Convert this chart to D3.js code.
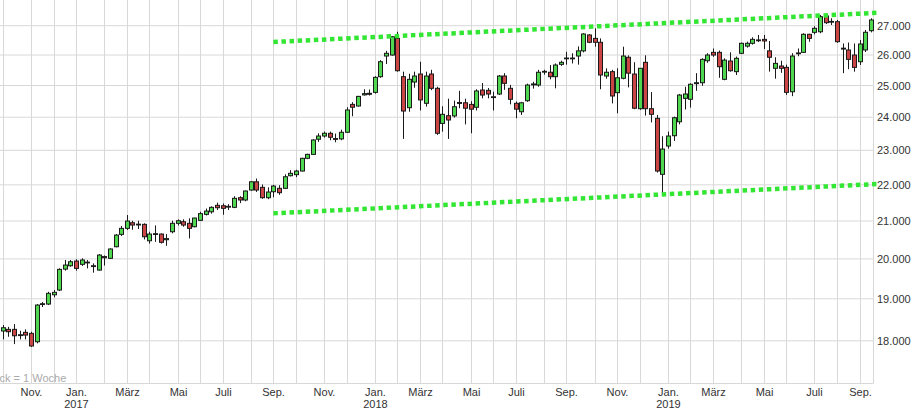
<!DOCTYPE html>
<html><head><meta charset="utf-8">
<script src="https://cdn.jsdelivr.net/npm/d3@7"></script>
<style>
html,body{margin:0;padding:0;background:#fff;}
svg{display:block;font-family:"Liberation Sans",Arial,sans-serif;}
</style></head><body>
<svg id="chart" width="917" height="414"></svg>
<script>
// Weekly candles, first week starts Monday 2016-09-26, last week 2019-09-09
const firstWeek = "2016-09-26";
const lastWeek = "2019-09-09";
const openV = [18228,18267,18267,18140,18197,18173,17978,18860,18871,19098,19215,19740,19825,19946,19861,19905,19825,19715,20060,20015,
20316,20642,20802,20953,20900,20910,20473,20640,20650,20500,20712,20937,20980,20937,20846,21018,21180,21250,21428,21417,
21390,21373,21639,21575,21854,22087,21930,21639,21806,21902,21902,22260,22290,22395,22764,22880,23330,23427,23508,23350,
23340,23540,24400,24350,24700,24750,24780,25285,25967,26000,26563,25285,24296,25112,25372,24434,25372,24910,23810,24047,
24040,24430,24450,24400,24310,24855,24845,24640,24728,25307,24910,24434,24170,24515,25020,25015,25440,25430,25285,25690,
25880,25900,25967,26140,26680,26563,26430,25307,25450,24770,25233,25925,25372,24265,25757,24265,23966,22300,23127,23436,
23860,24590,24560,25060,25090,25810,26090,26090,25200,25800,25450,26057,26300,26395,26500,26530,26140,25560,25635,25590,
24800,26050,26090,26703,26770,26790,27340,27130,27140,26200,26170,26000,25777,26170,26827];
const highV = [18369,18326,18392,18235,18267,18211,18870,18920,19172,19215,19760,19972,19972,19990,20015,19972,19886,20125,20090,20275,
20650,20865,21162,21007,21007,20937,20712,20880,20668,20650,21007,21045,21045,21072,21090,21250,21340,21400,21500,21480,
21460,21680,21680,21840,22100,22180,22010,21930,22000,21990,22300,22420,22430,22780,22900,23330,23508,23560,23560,23500,
23620,24310,24470,24670,24880,24870,25300,25830,26140,26640,26790,25450,25380,25450,25777,25450,25510,24960,24340,24580,
24520,24830,24580,24500,24880,25080,24920,24800,25340,25400,25020,24490,24480,25060,25120,25510,25510,25670,25720,25810,
26110,26060,26290,26740,26710,26910,26563,25560,25510,25560,26280,25990,25760,25560,25990,24790,24070,23420,23560,24020,
24730,24960,25070,25400,25890,26060,26220,26150,25890,26090,25950,26420,26450,26600,26680,26680,26475,25925,25810,25680,
26060,26220,26740,26720,26980,27375,27410,27260,27200,26390,26420,26390,26507,26850,27260];
const lowV = [18033,18094,17924,18033,18033,17860,17940,18800,18847,19035,19190,19700,19800,19700,19820,19758,19649,19700,19830,19998,
20300,20600,20760,20766,20785,20508,20400,20445,20400,20340,20670,20880,20846,20535,20830,21000,21150,21200,21300,21170,
21300,21350,21490,21540,21830,21800,21610,21600,21650,21720,21880,22240,22220,22380,22740,22860,23250,23380,23300,23240,
23300,23520,24030,24330,24680,24680,24740,25250,25700,25980,25450,23340,24170,24930,24210,24330,24850,23460,23560,23340,
23990,24280,23780,23510,24210,24590,24590,24210,24700,24860,24400,23970,24070,24480,24900,24960,25350,25200,24910,25640,
25680,25720,25680,26090,26400,26280,24880,25220,24430,24122,25200,24940,24250,24230,24050,23840,22350,21760,23050,23280,
23780,24240,24300,24830,24990,25740,25940,25250,25170,25450,25340,26030,26250,26350,26440,26200,25450,25220,25410,24700,
24660,25960,26070,26450,26700,26740,27060,27025,26410,25400,25530,25450,25670,26100,26770];
const closeV = [18305,18211,18117,18130,18133,17880,18847,18880,19133,19158,19733,19843,19928,19758,19972,19918,19812,20100,20030,20257,
20623,20802,20999,20891,20915,20578,20650,20660,20432,20530,20937,21007,20891,20802,21080,21200,21270,21372,21362,21345,
21400,21622,21575,21826,22087,21854,21639,21798,21966,21779,22231,22329,22395,22764,22880,23308,23427,23510,23390,23340,
23540,24225,24310,24652,24740,24719,25265,25777,26057,26620,25480,24192,25200,25307,24540,25307,24910,23510,24090,23915,
24327,24460,24280,24250,24825,24695,24728,24620,25307,25070,24560,24250,24450,25015,25050,25430,25460,25285,25668,25757,
25900,25880,26140,26713,26430,26430,25340,25430,24665,25250,25967,25400,24280,25560,24265,24090,22395,23037,23427,23985,
24695,24728,25040,25090,25855,26000,26000,25612,25830,25480,25890,26395,26395,26530,26510,26475,25925,25723,25560,24780,
25967,26070,26703,26563,26910,27315,27105,27150,26450,26230,25855,25590,26372,26772,27200];

const yTicks = [18000,19000,20000,21000,22000,23000,24000,25000,26000,27000];
const monthNames = ["Jan.","Feb.","März","Apr.","Mai","Juni","Juli","Aug.","Sep.","Okt.","Nov.","Dez."];
const labeledMonths = [0,2,4,6,8,10];
const upperTrend = [{date:"2017-08-28", value:26440},{date:"2019-09-16", value:27450}];
const lowerTrend = [{date:"2017-08-28", value:21208},{date:"2019-09-16", value:22023}];
const noteText = "ck = 1 Woche";

const W = 917, H = 414;
const plotRight = 873.6, plotBottom = 383;
const parse = d3.timeParse("%Y-%m-%d");
const weeks = d3.timeMonday.range(parse(firstWeek), d3.timeDay.offset(parse(lastWeek), 1));
const data = weeks.map((d,i)=>({date:d, o:openV[i], h:highV[i], l:lowV[i], c:closeV[i]}));

const x = d3.scaleBand().domain(weeks.map(d=>+d)).range([0, plotRight]).paddingInner(0.3).paddingOuter(0.15);
const step = x.step();
const cx0 = x(+weeks[0]) + x.bandwidth()/2;
const xOf = d => cx0 + d3.timeMonday.count(weeks[0], d) * step;
const y = d3.scaleLog().domain([18000, 27000]).range([340.8, 25.7]);
const fmt = d3.formatLocale({decimal:",", thousands:".", grouping:[3], currency:["","€"]}).format(",.0f");

const svg = d3.select("#chart");
svg.append("rect").attr("width",W).attr("height",H).attr("fill","#fff");

const grid = svg.append("g").attr("stroke","#d8d8d8").attr("stroke-width",1);
// horizontal gridlines
grid.selectAll("line.h").data(yTicks).join("line").attr("class","h")
  .attr("x1",0).attr("x2",plotRight).attr("y1",d=>y(d)).attr("y2",d=>y(d));
// month gridlines at the week containing the 1st of each month
const months = d3.timeMonth.range(new Date(2016,9,1), new Date(2019,9,1));
const monthPos = months.map(m=>({m, x: Math.round(xOf(d3.timeMonday.floor(m)))+0.5}));
grid.selectAll("line.v").data(monthPos).join("line").attr("class","v")
  .attr("x1",d=>d.x).attr("x2",d=>d.x).attr("y1",0).attr("y2",plotBottom);
// frame lines
grid.append("line").attr("x1",0).attr("x2",plotRight).attr("y1",plotBottom+0.5).attr("y2",plotBottom+0.5);
grid.append("line").attr("x1",873.5).attr("x2",873.5).attr("y1",0).attr("y2",plotBottom);

// candles
const cg = svg.append("g");
const cand = cg.selectAll("g").data(data).join("g");
cand.append("line")
  .attr("x1",d=>Math.round(x(+d.date)+x.bandwidth()/2)+0.5)
  .attr("x2",d=>Math.round(x(+d.date)+x.bandwidth()/2)+0.5)
  .attr("y1",d=>y(d.h)).attr("y2",d=>y(d.l))
  .attr("stroke","#1a1a1a").attr("stroke-width",1);
cand.append("rect")
  .attr("x",d=>Math.round(x(+d.date)+x.bandwidth()/2)-1.5)
  .attr("width",4)
  .attr("y",d=>y(Math.max(d.o,d.c)))
  .attr("height",d=>Math.max(Math.abs(y(d.o)-y(d.c)),0.8))
  .attr("fill",d=>d.c>=d.o ? "#4fd84f" : "#cc4545")
  .attr("stroke","#1a1a1a").attr("stroke-width",1);

// y axis labels (right)
const yAxis = d3.axisRight(y).tickValues(yTicks).tickFormat(fmt).tickSize(0).tickPadding(4);
const ya = svg.append("g").attr("transform",`translate(873,0)`).call(yAxis);
ya.select(".domain").remove();
ya.selectAll("text").attr("fill","#333").attr("font-size",11).attr("font-family","Liberation Sans, Arial, sans-serif");

// x labels
const xl = svg.append("g").attr("font-size",11).attr("fill","#333").attr("text-anchor","middle");
xl.selectAll("text.m").data(monthPos.filter(d=>labeledMonths.includes(d.m.getMonth()))).join("text")
  .attr("class","m").attr("x",d=>d.x).attr("y",395.5).text(d=>monthNames[d.m.getMonth()]);
xl.selectAll("text.yr").data(monthPos.filter(d=>d.m.getMonth()===0)).join("text")
  .attr("class","yr").attr("x",d=>d.x).attr("y",407.5).text(d=>d.m.getFullYear());

// note
svg.append("text").attr("x",-0.5).attr("y",381.5).attr("font-size",11).attr("fill","#aaa").text(noteText);

// trend lines
const line = d3.line().x(d=>xOf(parse(d.date))).y(d=>y(d.value));
[upperTrend, lowerTrend].forEach(t=>{
  svg.append("path").attr("d",line(t)).attr("fill","none")
    .attr("stroke","#33e633").attr("stroke-width",4.5).attr("stroke-dasharray","4.5 3.6");
});
</script>
</body></html>
